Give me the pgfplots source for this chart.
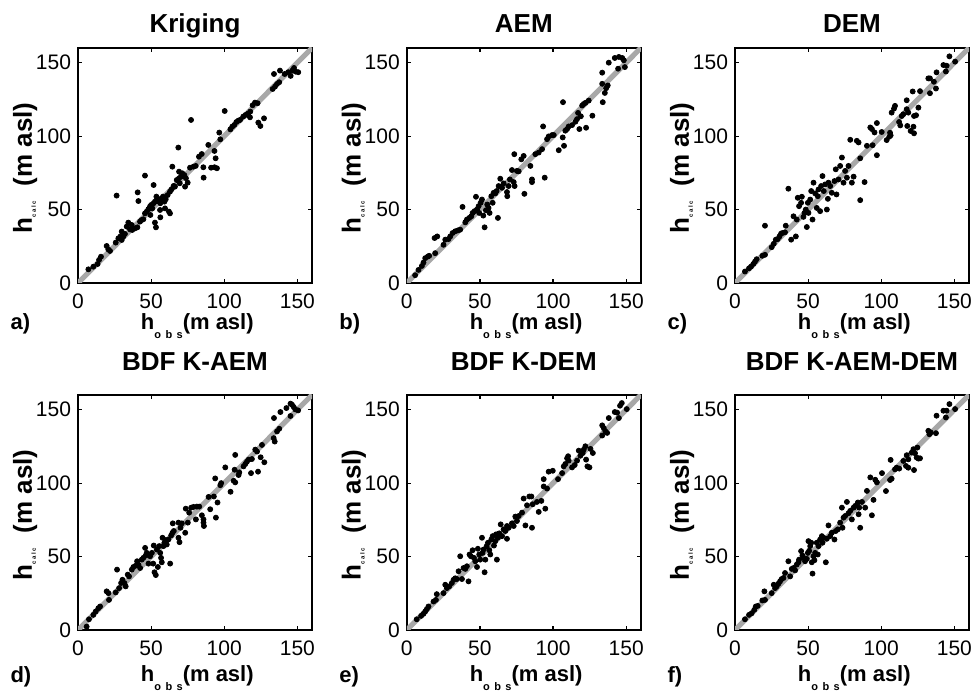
\documentclass[border=0pt]{standalone}
\usepackage{fontspec}
\setmainfont{Liberation Sans}
\usepackage{pgfplots}
\pgfplotsset{compat=1.18}
\usepackage{pgfplotstable}
\definecolor{oneline}{RGB}{168,168,168}

\pgfplotstableread{
x y
7.1 9.3
10.5 11.1
13.4 12.9
14.4 15.7
15.7 17.9
19.6 25.2
20.7 22.9
21.9 21.8
25.8 27.5
27.6 30.4
28.9 31.6
29.9 29.3
31.0 31.6
32.1 33.4
33.3 38.4
34.4 41.1
35.6 36.5
36.7 39.5
37.1 36.1
39.0 37.2
40.6 37.9
29.9 35.0
42.4 41.8
43.5 42.9
44.7 43.4
45.8 47.4
47.0 48.6
48.1 50.2
49.2 52.0
49.5 46.3
50.0 53.1
50.8 50.8
51.7 54.3
52.6 55.4
53.6 58.8
54.5 57.0
55.4 55.4
56.3 54.3
57.2 57.7
58.1 58.8
59.1 55.4
60.0 57.0
61.3 59.9
62.9 62.2
64.0 63.8
65.4 66.1
66.3 65.6
67.5 70.1
69.1 71.3
70.4 72.4
71.3 74.7
72.7 73.5
73.8 71.3
75.0 68.3
76.6 78.5
78.9 79.2
80.5 79.7
82.7 86.0
84.6 87.8
89.1 94.0
93.3 89.9
94.1 84.9
91.0 78.5
93.3 78.8
95.0 78.1
85.9 71.7
85.7 78.8
97.3 97.8
96.6 102.4
100.3 117.1
77.3 111.0
68.6 92.2
64.5 79.2
45.8 73.1
51.7 66.7
40.8 61.7
41.3 55.8
26.4 59.5
56.1 49.7
59.5 50.8
62.2 48.6
62.9 47.4
56.3 44.7
52.6 41.1
53.3 37.9
69.1 75.8
69.6 67.9
73.2 65.6
104.2 104.6
105.5 106.5
106.9 107.6
108.3 109.6
109.6 110.5
110.8 111.0
113.0 113.3
114.6 114.4
116.5 115.5
117.8 116.7
119.4 121.0
121.0 122.8
122.8 122.4
123.3 109.2
124.7 106.9
127.2 112.1
117.6 112.8
133.1 132.1
134.7 133.7
136.1 135.5
137.6 136.7
134.0 142.3
138.1 144.6
141.3 142.3
143.8 143.5
145.4 141.0
146.5 144.6
147.7 146.4
148.8 143.9
150.6 143.5
}\dataA

\pgfplotstableread{
x y
5.7 5.3
8.0 8.9
10.3 11.6
11.4 13.9
12.6 16.9
14.4 18.0
15.3 18.5
19.4 20.3
19.0 30.6
20.8 31.7
25.1 26.0
26.3 29.5
28.5 29.9
29.7 31.7
31.3 34.0
33.1 35.2
34.9 35.8
36.5 36.3
38.1 51.8
40.0 41.3
41.1 43.2
42.7 44.3
44.1 45.4
45.0 47.7
46.3 48.9
47.3 58.7
48.0 50.0
49.1 52.3
49.5 47.7
50.5 54.6
51.4 56.8
52.3 45.9
53.2 37.9
54.1 49.5
55.0 53.4
55.9 51.1
56.6 47.7
57.8 59.1
58.7 54.6
59.4 61.4
60.5 61.0
61.4 62.6
62.3 44.3
62.8 66.0
63.9 71.0
65.1 64.8
66.2 67.8
68.5 61.9
68.7 59.1
69.6 66.0
70.5 70.5
71.9 76.9
73.1 68.7
73.7 66.0
73.5 87.7
75.3 76.3
76.5 76.0
78.3 84.2
79.9 86.5
80.4 60.7
84.5 79.7
85.6 70.5
85.6 68.7
87.9 87.7
90.2 88.8
92.5 91.1
93.2 106.6
94.3 71.7
95.9 97.9
97.0 99.8
99.3 100.7
100.5 100.7
103.9 90.4
106.6 99.1
107.5 93.4
108.4 103.7
109.6 104.8
110.7 106.6
113.0 107.5
115.3 109.8
116.4 111.6
117.1 115.8
118.0 104.8
119.0 113.5
119.9 120.8
121.0 121.9
122.1 122.6
122.6 105.7
124.4 124.2
126.9 113.9
106.8 123.1
133.6 135.6
134.0 123.1
135.4 129.4
136.3 132.6
137.4 134.5
133.6 143.2
138.1 150.0
142.2 153.2
145.0 153.9
147.3 153.2
148.4 151.6
144.5 145.9
149.1 147.0
}\dataB

\pgfplotstableread{
x y
6.8 7.8
9.6 10.0
11.0 11.2
12.6 13.0
13.7 14.6
14.8 16.2
18.7 18.5
20.5 19.2
20.5 39.0
25.1 24.4
26.5 26.7
27.9 29.5
29.2 29.9
30.4 31.7
31.5 33.6
32.4 34.0
34.2 34.5
36.5 64.2
34.7 39.0
38.4 29.5
40.0 45.4
41.6 31.7
42.2 43.2
42.9 58.0
43.8 52.3
45.2 54.6
45.7 58.7
46.8 45.0
47.5 47.7
48.4 50.0
49.1 38.1
49.8 54.6
50.2 47.7
51.4 56.8
52.1 62.6
53.0 43.2
53.7 68.3
54.8 61.0
55.9 51.1
56.6 59.1
57.1 63.7
58.2 48.9
58.9 66.0
59.8 72.8
60.7 62.6
61.6 67.1
62.8 50.0
63.5 57.3
63.9 68.3
65.1 66.0
66.2 61.4
68.0 69.4
68.9 77.4
69.4 60.3
70.8 70.5
71.9 79.7
73.1 85.4
74.2 68.3
75.3 76.3
76.5 71.7
77.6 79.7
78.8 97.5
79.9 68.3
81.1 72.4
83.3 96.8
84.5 95.7
85.6 84.9
85.6 56.4
88.6 68.7
90.2 93.4
92.5 105.9
93.6 104.8
94.1 93.8
95.4 102.5
97.0 87.0
97.0 108.9
100.3 102.8
103.7 97.3
105.5 99.6
106.0 102.3
106.4 100.5
107.1 116.0
108.7 118.7
109.4 120.6
112.2 109.6
113.0 107.3
114.0 113.7
115.1 114.9
117.4 124.4
117.4 118.3
118.5 116.0
117.8 106.9
120.1 103.5
122.0 106.4
122.4 101.9
121.5 130.4
126.5 130.6
125.4 119.4
123.8 114.2
122.4 113.7
133.3 129.2
137.4 132.4
136.0 137.0
132.2 139.3
133.3 139.3
137.8 143.4
144.2 144.0
142.5 148.4
144.7 147.9
146.6 154.3
150.5 150.7
}\dataC

\pgfplotstableread{
x y
5.9 2.3
7.5 7.3
10.5 10.3
12.1 12.6
13.9 14.8
15.1 16.0
19.6 26.3
20.8 25.1
21.2 20.5
25.8 25.6
26.7 41.1
28.1 28.5
29.5 32.0
30.4 34.2
31.7 32.0
32.6 29.7
34.0 37.7
34.9 36.5
36.8 41.1
37.9 42.9
39.5 43.8
40.4 46.8
41.3 44.5
42.5 42.2
43.6 47.9
44.7 49.1
45.9 55.9
46.3 50.7
47.0 52.5
48.2 45.2
49.3 50.2
50.5 52.5
51.4 45.2
51.8 57.5
52.3 39.3
53.2 37.4
53.9 54.8
54.6 42.9
55.5 57.1
56.2 52.5
56.8 49.1
57.3 46.1
57.8 62.8
58.4 57.1
59.1 59.4
60.0 61.2
60.7 58.2
61.8 61.6
63.0 45.2
63.7 64.4
64.6 66.2
64.8 72.6
65.5 67.4
68.7 73.1
68.7 62.8
69.4 59.8
70.1 69.6
71.0 72.6
73.3 66.2
73.7 82.6
75.1 73.1
76.0 79.9
77.4 83.3
79.0 83.8
80.6 75.3
81.3 84.0
82.9 84.0
84.7 78.1
85.8 75.3
86.1 70.8
85.8 73.1
89.3 90.6
90.4 82.2
92.9 90.9
93.8 103.2
94.3 76.5
95.4 86.8
97.3 98.6
97.9 100.0
100.7 110.7
104.3 94.1
106.4 101.6
107.1 109.1
107.5 100.5
109.8 105.5
110.3 107.3
107.5 119.2
113.2 111.4
114.4 113.0
115.5 114.6
116.7 116.0
118.3 106.8
118.9 116.4
121.2 122.8
122.4 121.5
123.1 107.8
124.9 117.6
125.8 126.0
127.4 114.2
133.8 130.6
134.5 128.3
136.1 135.2
137.6 137.0
134.0 144.3
138.4 148.4
142.5 151.1
145.3 154.1
146.3 153.4
147.5 151.8
148.6 150.2
150.5 149.5
145.3 145.7
}\dataD

\pgfplotstableread{
x y
6.8 7.3
9.8 9.6
11.4 11.0
12.6 12.6
13.7 14.2
14.8 16.0
18.3 19.4
19.9 20.5
20.5 24.4
25.1 25.1
26.3 30.8
27.4 28.5
29.0 29.7
30.8 32.0
32.0 34.2
33.1 35.2
34.2 34.7
35.4 40.0
36.5 50.2
37.7 34.7
38.8 42.2
40.0 41.6
41.1 43.4
42.2 33.1
42.9 51.4
43.8 50.2
45.0 54.3
45.9 49.1
46.8 46.8
48.0 42.9
48.6 55.3
49.5 51.4
50.2 47.9
51.4 62.8
51.8 52.5
52.5 54.8
53.2 39.3
53.7 47.9
54.6 57.1
55.5 59.4
56.4 54.3
57.1 51.4
57.8 61.6
58.7 63.9
59.6 57.5
60.5 60.5
61.0 65.1
61.6 47.9
62.3 62.8
63.2 65.8
64.2 71.9
65.1 63.9
66.2 68.5
67.4 67.4
68.5 62.1
68.5 70.8
69.6 69.6
71.9 72.6
73.1 70.8
74.2 77.2
75.3 74.2
76.5 77.6
78.8 79.9
79.9 89.5
81.1 71.2
82.2 84.9
83.8 90.9
85.2 90.9
85.6 69.6
86.1 85.6
89.0 87.2
90.2 80.4
92.0 87.9
93.6 102.7
93.6 97.7
94.7 82.6
95.9 96.3
97.0 107.8
99.8 108.4
103.4 102.7
106.2 106.8
107.3 111.4
108.4 113.0
109.6 116.9
110.3 118.3
110.7 115.3
113.0 110.7
114.8 112.3
116.4 115.3
117.6 122.1
118.7 118.7
120.3 120.5
121.0 122.8
122.1 125.1
122.6 116.0
123.5 111.4
124.9 110.7
125.6 123.3
127.2 120.5
133.6 139.3
134.7 137.4
135.8 135.2
137.0 134.2
138.1 144.3
133.6 132.4
142.2 148.4
143.8 148.0
145.0 144.3
145.8 152.7
147.0 154.5
150.4 150.4
}\dataE

\pgfplotstableread{
x y
6.8 7.3
9.6 10.3
11.4 11.4
13.2 13.7
14.2 16.0
15.5 16.4
18.7 20.1
20.1 26.3
20.5 20.5
25.1 25.1
26.5 30.8
27.4 28.5
28.5 29.7
29.7 31.5
30.8 33.1
31.9 34.7
33.1 35.4
34.2 38.8
36.5 46.8
37.7 36.5
38.8 41.6
40.0 42.2
41.1 40.6
42.2 44.5
43.4 46.1
43.8 47.9
45.2 53.7
46.1 50.7
46.8 49.1
47.9 46.8
49.1 48.4
49.8 52.5
50.2 60.5
50.7 53.9
51.4 57.1
52.1 59.4
52.5 46.1
53.0 38.4
53.7 50.2
54.3 47.5
54.8 52.5
55.9 59.4
56.6 51.4
57.1 57.1
58.2 61.6
59.4 63.9
59.8 59.4
60.5 62.8
62.1 46.1
62.8 62.1
63.9 71.2
65.1 63.9
66.2 66.2
68.0 61.6
68.9 67.4
70.3 68.5
71.9 73.1
73.1 83.3
73.5 69.6
74.2 76.5
75.3 77.6
76.5 87.2
77.6 79.5
78.8 81.1
79.9 75.3
81.1 83.3
82.2 84.5
84.0 86.8
84.5 78.8
84.9 83.3
85.6 69.6
86.8 87.2
89.0 83.3
90.2 94.7
92.5 103.9
93.6 78.1
94.7 88.6
95.9 102.3
97.0 100.5
100.5 106.8
103.2 94.6
106.0 102.1
107.1 103.0
106.4 115.8
109.4 109.4
110.5 110.5
112.3 109.9
115.1 115.1
116.9 111.7
118.5 110.5
117.4 119.0
118.5 116.2
122.4 108.9
120.9 120.8
122.0 123.1
123.1 120.3
124.2 117.4
124.7 124.2
125.4 116.7
126.5 116.9
132.2 135.6
132.9 133.3
133.8 134.5
137.4 134.0
137.8 145.9
142.5 149.3
144.2 144.7
144.7 149.3
146.6 153.8
150.5 150.4
}\dataF

\tikzset{letter/.style={anchor=base west, inner sep=0pt, font=\fontsize{11}{13}\selectfont\bfseries}}

\pgfplotsset{
  panel/.style={
    scale only axis, width=117pt, height=117.5pt,
    xmin=0, xmax=160, ymin=0, ymax=160,
    xtick={0,50,100,150}, ytick={0,50,100,150},
    tick align=inside, major tick length=2pt,
    tick style={black, line width=0.6pt},
    axis line style={black, line width=1.1pt},
    tick label style={font=\fontsize{10.5}{12}\selectfont},
    xticklabel style={yshift=-1.8pt},
    /pgf/number format/assume math mode=true,
    clip mode=individual,
    ylabel={\fontsize{13}{15}\selectfont\bfseries h\raisebox{-2pt}{\fontsize{3}{3}\selectfont c\hspace{0.8pt}a\hspace{0.8pt}l\hspace{0.8pt}c}\ \ (m asl)},
    ylabel style={at={(axis description cs:-0.197,0.49)}, anchor=base},
    title style={font=\fontsize{13}{15}\selectfont\bfseries, anchor=base, yshift=0pt},
    every axis title shift=0pt,
    anchor=south west,
  },
  toprow/.style={
    xlabel={\fontsize{11}{13}\selectfont\bfseries h\raisebox{-4.5pt}{\fontsize{5.5}{6}\selectfont o\hspace{2.2pt}b\hspace{2.2pt}s}(m asl)},
    xlabel style={at={(axis description cs:0.51,-0.198)}, anchor=base, inner sep=1pt},
    title style={at={(axis description cs:0.5,1.068)}},
  },
  botrow/.style={
    xlabel={\fontsize{11}{13}\selectfont\bfseries h\raisebox{-4.5pt}{\fontsize{5.5}{6}\selectfont o\hspace{2.2pt}b\hspace{2.2pt}s}(m asl)},
    xlabel style={at={(axis description cs:0.51,-0.221)}, anchor=base, inner sep=1pt},
    title style={at={(axis description cs:0.5,1.104)}},
  },
  oneone/.style={oneline, line width=2.6pt, no marks},
  dots/.style={only marks, mark=*, mark size=1.25pt, black},
}

\begin{document}
\begin{tikzpicture}
\path[use as bounding box] (0,0) rectangle (487pt,347pt);

\begin{axis}[panel, toprow, at={(39pt,205.5pt)}, title={Kriging}]
\addplot[oneone] coordinates {(0,0) (160,160)};
\addplot[dots] table[x=x,y=y] {\dataA};
\node[letter] at (axis description cs:-0.29,-0.196) {a)};
\end{axis}

\begin{axis}[panel, toprow, at={(203.4pt,205.5pt)}, title={AEM}]
\addplot[oneone] coordinates {(0,0) (160,160)};
\addplot[dots] table[x=x,y=y] {\dataB};
\node[letter] at (axis description cs:-0.29,-0.196) {b)};
\end{axis}

\begin{axis}[panel, toprow, at={(367.5pt,205.5pt)}, title={DEM}]
\addplot[oneone] coordinates {(0,0) (160,160)};
\addplot[dots] table[x=x,y=y] {\dataC};
\node[letter] at (axis description cs:-0.29,-0.196) {c)};
\end{axis}

\begin{axis}[panel, botrow, at={(39pt,32pt)}, title={BDF K-AEM}]
\addplot[oneone] coordinates {(0,0) (160,160)};
\addplot[dots] table[x=x,y=y] {\dataD};
\node[letter] at (axis description cs:-0.29,-0.2255) {d)};
\end{axis}

\begin{axis}[panel, botrow, at={(203.4pt,32pt)}, title={BDF K-DEM}]
\addplot[oneone] coordinates {(0,0) (160,160)};
\addplot[dots] table[x=x,y=y] {\dataE};
\node[letter] at (axis description cs:-0.29,-0.2255) {e)};
\end{axis}

\begin{axis}[panel, botrow, at={(367.5pt,32pt)}, title={BDF K-AEM-DEM}]
\addplot[oneone] coordinates {(0,0) (160,160)};
\addplot[dots] table[x=x,y=y] {\dataF};
\node[letter] at (axis description cs:-0.29,-0.2255) {f)};
\end{axis}
\end{tikzpicture}
\end{document}
